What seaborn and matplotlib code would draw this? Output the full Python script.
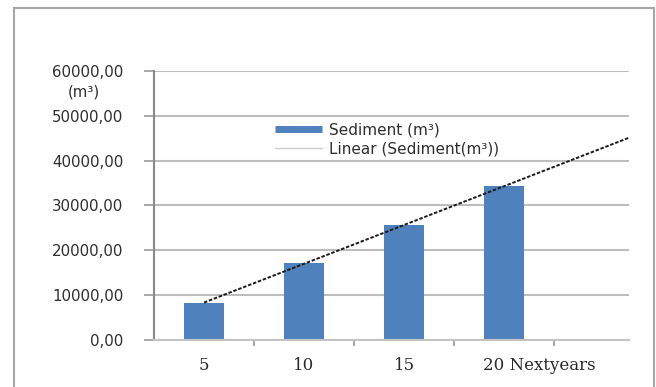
import numpy as np
import pandas as pd
import matplotlib
matplotlib.use("Agg")
import matplotlib.pyplot as plt
import matplotlib.transforms as mtransforms
from matplotlib.lines import Line2D
from matplotlib.patches import Rectangle
import seaborn as sns

# Sediment volume per period (m³)
periods = ["5", "10", "15", "20"]
sediment = [8300, 17100, 25600, 34300]
period_labels = ["5", "10", "15", "20 Nextyears"]
y_ticks = [0, 10000, 20000, 30000, 40000, 50000, 60000]

sns.set_theme(style="white")
plt.rcParams["font.family"] = ["DejaVu Sans"]

W, H = 656, 387
fig = plt.figure(figsize=(W / 100, H / 100), dpi=100)
ax = fig.add_axes([154 / W, 1 - 340 / H, 475 / W, 269 / H])

df = pd.DataFrame({"period": periods, "sediment": sediment})
sns.barplot(data=df, x="period", y="sediment", ax=ax, color="#4F81BD",
            width=0.4, saturation=1, edgecolor="none", order=periods)

# linear trend of the bars, extended to the right edge
xs = np.arange(len(sediment))
coef = np.polyfit(xs, sediment, 1)
x_end = 4.25
xline = np.array([0.0, x_end])
ax.plot(xline, np.polyval(coef, xline), color="#1a1a1a", lw=1.4,
        linestyle=(0, (1.8, 0.9)), zorder=3)

ax.set_xlim(-0.5, x_end)
ax.set_ylim(0, 60000)
ax.set_xlabel("")
ax.set_ylabel("")

ax.set_yticks(y_ticks)
ax.set_yticklabels([f"{v:.2f}".replace(".", ",") for v in y_ticks],
                   fontsize=10.8, color="#2e2e2e")
ax.tick_params(axis="y", length=7, width=1.2, color="#9a9a9a", pad=15, left=True)

ax.set_xticks(range(len(periods)))
ax.set_xticklabels(period_labels, fontsize=12, family="DejaVu Serif",
                   color="#2a2a2a")
ax.tick_params(axis="x", which="major", length=0, pad=12)
ax.set_xticks([0.5, 1.5, 2.5, 3.5], minor=True)
ax.tick_params(axis="x", which="minor", length=4, width=1.2, color="#9a9a9a",
               bottom=True)
last = ax.get_xticklabels()[-1]
last.set_transform(last.get_transform() +
                   mtransforms.ScaledTranslation(35 / 100, 0, fig.dpi_scale_trans))

ax.yaxis.grid(True, color="#bdbdbd", lw=1.5)
ax.xaxis.grid(False)
ax.set_axisbelow(True)
for s in ("top", "right"):
    ax.spines[s].set_visible(False)
ax.spines["left"].set_color("#8a8a8a")
ax.spines["left"].set_linewidth(1.5)
ax.spines["bottom"].set_color("#c4c4c4")
ax.spines["bottom"].set_linewidth(1.5)

fig.text(84 / W, 1 - 92 / H, "(m³)", ha="center", va="center",
         fontsize=10.8, color="#2e2e2e")

handles = [
    Line2D([0], [0], color="#4F81BD", lw=5, solid_capstyle="butt"),
    Line2D([0], [0], color="#cfcfcf", lw=1),
]
leg = ax.legend(handles, ["Sediment (m³)", "Linear (Sediment(m³))"],
                loc="upper left", bbox_to_anchor=(0.255, 0.81),
                frameon=False, fontsize=11, handlelength=3.1,
                handletextpad=0.45, labelspacing=0.3, borderpad=0,
                borderaxespad=0)
for t in leg.get_texts():
    t.set_color("#2e2e2e")

# outer chart frame
fig.patches.append(Rectangle((14 / W, -0.1), (654 - 14) / W, (1 - 8 / H) + 0.1,
                             transform=fig.transFigure, fill=False,
                             ec="#a6a6a6", lw=1.5))

fig.savefig("out.png", dpi=100)
